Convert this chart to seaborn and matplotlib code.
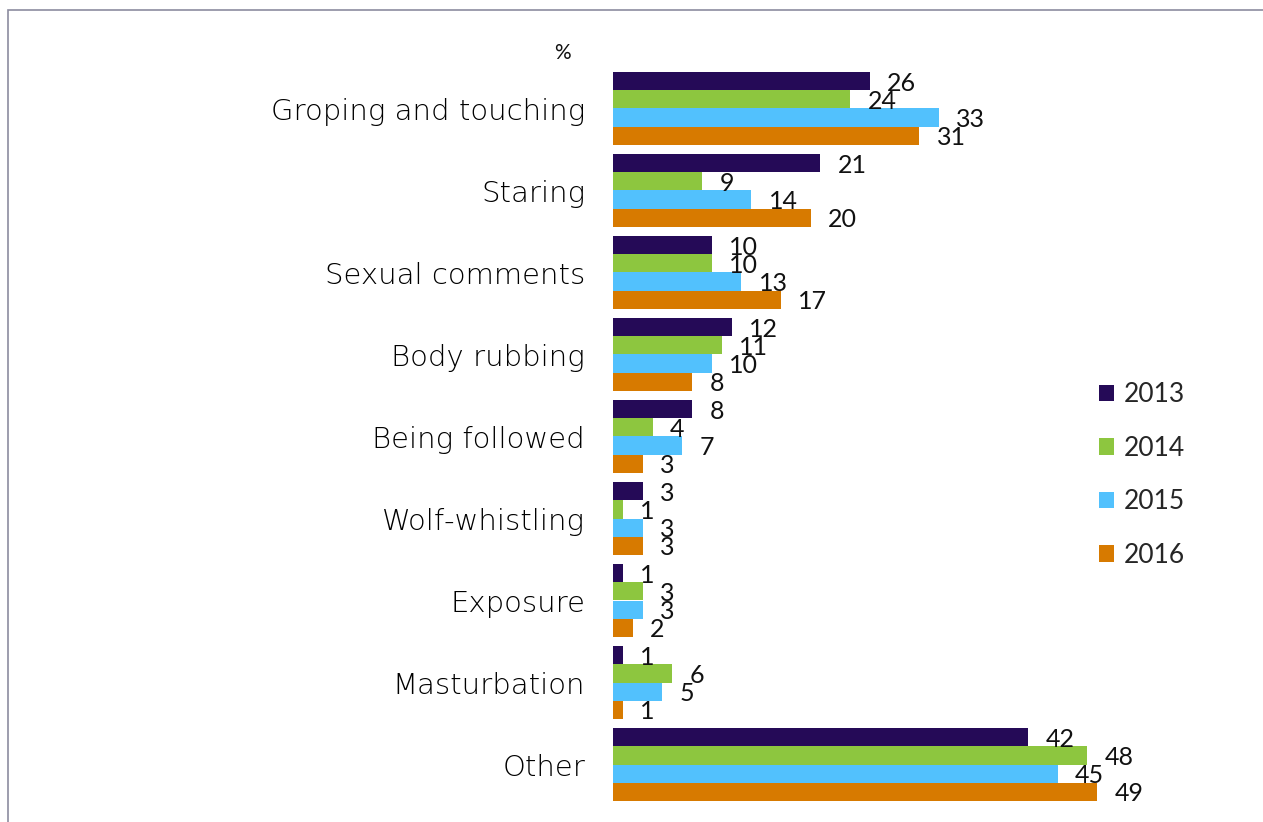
import matplotlib
matplotlib.use("Agg")
import matplotlib.pyplot as plt
from matplotlib.patches import Patch, Rectangle
import seaborn as sns
import pandas as pd

categories = ["Groping and touching", "Staring", "Sexual comments", "Body rubbing",
              "Being followed", "Wolf-whistling", "Exposure", "Masturbation", "Other"]
years = ["2013", "2014", "2015", "2016"]
values_2013 = [26, 21, 10, 12, 8, 3, 1, 1, 42]
values_2014 = [24, 9, 10, 11, 4, 1, 3, 6, 48]
values_2015 = [33, 14, 13, 10, 7, 3, 3, 5, 45]
values_2016 = [31, 20, 17, 8, 3, 3, 2, 1, 49]
colors = ["#250A57", "#8DC63F", "#52C1FD", "#D77A00"]

series = [values_2013, values_2014, values_2015, values_2016]
df = pd.DataFrame(
    [(cat, yr, v) for yr, vals in zip(years, series) for cat, v in zip(categories, vals)],
    columns=["category", "year", "value"],
)

sns.set_theme(style="white")
plt.rcParams["font.family"] = ["Lato", "DejaVu Sans"]

W, H = 1263, 822
fig = plt.figure(figsize=(W / 100, H / 100), dpi=100)

# axes placed in pixel terms: x origin at 613 px, 9.88 px per percent
x0, x1 = 613, 613 + 55 * 9.878
y_top, y_bot = 67.5, 805.5
ax = fig.add_axes([x0 / W, 1 - y_bot / H, (x1 - x0) / W, (y_bot - y_top) / H])

sns.barplot(data=df, y="category", x="value", hue="year", hue_order=years,
            order=categories, palette=colors, width=0.89, orient="h",
            saturation=1, ax=ax, legend=False, linewidth=0)

ax.set_xlim(0, 55)
ax.set_ylim(8.5, -0.5)
ax.set_xlabel("")
ax.set_ylabel("")
ax.set_xticks([])
for s in ax.spines.values():
    s.set_visible(False)
ax.tick_params(axis="y", length=0, pad=20)
for lbl in ax.get_yticklabels():
    lbl.set_fontfamily(["DejaVu Sans"])
    lbl.set_fontweight("light")
    lbl.set_fontsize(21)
    lbl.set_color("#000000")

for cont in ax.containers:
    for patch in cont:
        v = patch.get_width()
        yc = patch.get_y() + patch.get_height() / 2
        ax.annotate(f"{v:g}", xy=(v, yc), xytext=(12.5, -1.5), textcoords="offset points",
                    ha="left", va="center", fontsize=18, color="#111111")

handles = [Patch(facecolor=c, edgecolor="none") for c in colors]
fig.legend(handles, years, loc="center left",
           bbox_to_anchor=(1088 / W, 1 - 475 / H), frameon=False,
           fontsize=19, handlelength=0.6, handleheight=0.6, handletextpad=0.35,
           labelspacing=1.08, borderaxespad=0)

fig.text(562 / W, 1 - 53 / H, "%", ha="center", va="center", fontsize=15, color="#111111")

# outer frame line along the top and left
fig.add_artist(Rectangle((8 / W, -0.05), 1.1, 1 - 10 / H + 0.05, transform=fig.transFigure,
                         fill=False, edgecolor="#8C8CA0", linewidth=1.2))

fig.savefig("out.png", dpi=100)
